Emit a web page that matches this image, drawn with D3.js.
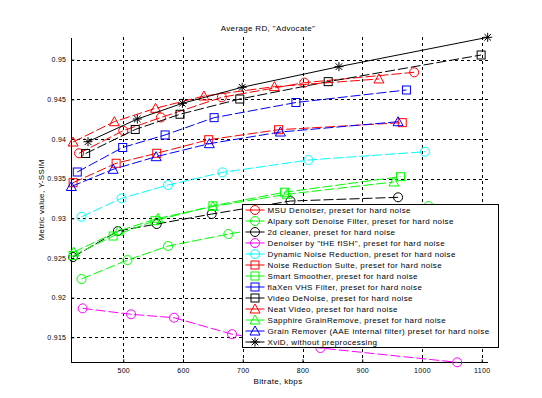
<!DOCTYPE html>
<html>
<head>
<meta charset="utf-8">
<script src="https://cdn.jsdelivr.net/npm/d3@7"></script>
<style>
  body { margin: 0; background: #fff; }
  text { font-family: "Liberation Sans", Arial, sans-serif; fill: #000; }
</style>
</head>
<body>
<svg id="chart" width="542" height="398"></svg>
<script>
'use strict'

// bitrate (kbps) / Y-SSIM per codec
var msuX      = [426, 500, 563, 665, 803, 987],
    msuY      = [0.9382, 0.94105, 0.94271, 0.94526, 0.9471, 0.94841]
var alparyX   = [430, 507, 575, 676, 827, 1011],
    alparyY   = [0.92235, 0.92474, 0.92651, 0.92802, 0.92991, 0.93155]
var cleanerX  = [416, 491, 556, 648, 780, 960],
    cleanerY  = [0.92512, 0.9284, 0.92928, 0.93054, 0.93218, 0.93265]
var fishX     = [432, 513, 585, 682, 830, 1059],
    fishY     = [0.91865, 0.9179, 0.91747, 0.91539, 0.91365, 0.91185]
var dnrX      = [430, 497, 575, 666, 810, 1005],
    dnrY      = [0.9302, 0.93252, 0.9342, 0.9358, 0.93735, 0.9384]
var nrsX      = [416, 488, 556, 643, 760, 967],
    nrsY      = [0.93449, 0.93694, 0.9382, 0.93991, 0.94117, 0.94206]
var smartX    = [416, 483, 553, 650, 770, 964],
    smartY    = [0.92531, 0.92777, 0.9297, 0.93158, 0.93329, 0.93525]
var flaxenX   = [423, 499, 570, 652, 789, 974],
    flaxenY   = [0.93584, 0.93893, 0.94051, 0.94269, 0.9446, 0.94618]
var vdnX      = [437, 520, 595, 695, 843, 1099],
    vdnY      = [0.93817, 0.9412, 0.94312, 0.94504, 0.94723, 0.95059]
var neatX     = [416, 485, 554, 635, 753, 928],
    neatY     = [0.93962, 0.94218, 0.94387, 0.94542, 0.9466, 0.94757]
var sapphireX = [417, 492, 558, 650, 774, 953],
    sapphireY = [0.92575, 0.9284, 0.93, 0.93149, 0.93304, 0.93458]
var aaeX      = [413, 483, 555, 644, 763, 960],
    aaeY      = [0.93401, 0.93618, 0.93777, 0.93941, 0.94088, 0.94218]
var xvidX     = [441, 523.5, 599, 699, 861, 1110],
    xvidY     = [0.93966, 0.94252, 0.9445, 0.94652, 0.94912, 0.95282]

var names = [
  'MSU Denoiser, preset for hard noise',
  'Alpary soft Denoise Filter, preset for hard noise',
  '2d cleaner, preset for hard noise',
  'Denoiser by "tHE fISH", preset for hard noise',
  'Dynamic Noise Reduction, preset for hard noise',
  'Noise Reduction Suite, preset for hard noise',
  'Smart Smoother, preset for hard noise',
  'flaXen VHS Filter, preset for hard noise',
  'Video DeNoise, preset for hard noise',
  'Neat Video, preset for hard noise',
  'Sapphire GrainRemove, preset for hard noise',
  'Grain Remover (AAE internal filter) preset for hard noise',
  'XviD, without preprocessing'
]
var xTicks = [500, 600, 700, 800, 900, 1000, 1100]
var yTicks = [0.915, 0.92, 0.925, 0.93, 0.935, 0.94, 0.945, 0.95]

// styles kept apart from the values
var colors  = ['#f00', '#0f0', '#000', '#f0f', '#0ff', '#f00', '#0f0', '#00f', '#000', '#f00', '#0f0', '#00f', '#000']
var markers = ['o', 'o', 'o', 'o', 'o', 's', 's', 's', 's', '^', '^', '^', '*']

var xs = [msuX, alparyX, cleanerX, fishX, dnrX, nrsX, smartX, flaxenX, vdnX, neatX, sapphireX, aaeX, xvidX]
var ys = [msuY, alparyY, cleanerY, fishY, dnrY, nrsY, smartY, flaxenY, vdnY, neatY, sapphireY, aaeY, xvidY]

var series = names.map((n, i) => ({
  name: n, color: colors[i], marker: markers[i],
  pts: xs[i].map((b, j) => [b, ys[i][j]])
}))

var svg = d3.select('#chart'),
    pL = 71.3, pR = 487.7, pT = 37.3, pB = 362.3

var x = d3.scaleLinear()
  .domain(d3.extent(d3.merge(xs)))
  .range([pL, pR])
var y = d3.scaleLinear()
  .domain(d3.extent(d3.merge(ys)))
  .range([pB, pT])

// grid
var grid = svg.append('g').attr('stroke', '#000').attr('stroke-width', 1)
  .attr('stroke-dasharray', '3,3').attr('shape-rendering', 'crispEdges')
grid.selectAll('.gx').data(xTicks).enter().append('line')
  .attr('x1', d => Math.round(x(d)) + 0.5).attr('x2', d => Math.round(x(d)) + 0.5)
  .attr('y1', pT).attr('y2', pB)
grid.selectAll('.gy').data(yTicks).enter().append('line')
  .attr('y1', d => Math.round(y(d)) + 0.5).attr('y2', d => Math.round(y(d)) + 0.5)
  .attr('x1', pL).attr('x2', pR)

// axes, MATLAB style: ticks inward, no box
var xAxis = svg.append('g')
  .attr('transform', 'translate(0,' + pB + ')')
  .call(d3.axisBottom(x).tickValues(xTicks).tickFormat(d3.format('d'))
    .tickSizeInner(-3).tickSizeOuter(0).tickPadding(6))
var yAxis = svg.append('g')
  .attr('transform', 'translate(' + pL + ',0)')
  .call(d3.axisLeft(y).tickValues(yTicks).tickFormat(d3.format('.3~f'))
    .tickSizeInner(-3).tickSizeOuter(0).tickPadding(5))
;[xAxis, yAxis].forEach(a => {
  a.select('.domain').attr('stroke', '#000').attr('shape-rendering', 'crispEdges')
  a.selectAll('line').attr('stroke', '#000')
  a.selectAll('text').attr('font-size', '7px').attr('letter-spacing', '0.3px')
    .attr('font-family', '"Liberation Sans", Arial, sans-serif').attr('fill', '#000')
})

svg.append('text').attr('x', 268).attr('y', 31).attr('text-anchor', 'middle')
  .attr('font-size', '8px').attr('letter-spacing', '0.35px')
  .text('Average RD, "Advocate"')
svg.append('text').attr('x', 278).attr('y', 384).attr('text-anchor', 'middle')
  .attr('font-size', '8px').attr('letter-spacing', '0.35px')
  .text('Bitrate, kbps')
svg.append('text').attr('transform', 'translate(44,' + (pT + pB) / 2 + ') rotate(-90)')
  .attr('text-anchor', 'middle').attr('font-size', '8px').attr('letter-spacing', '0.35px')
  .text('Metric value, Y-SSIM')

function drawMarker(sel, type, color){
  if (type == 'o'){
    sel.append('circle').attr('r', 4.5)
  } else if (type == 's'){
    sel.append('rect').attr('x', -4).attr('y', -4).attr('width', 8).attr('height', 8)
  } else if (type == '^'){
    sel.append('path').attr('d', 'M0,-5L5,4L-5,4Z')
  } else {
    sel.append('path').attr('d', 'M-4.5,0H4.5M0,-4.5V4.5M-3.3,-3.3L3.3,3.3M-3.3,3.3L3.3,-3.3')
  }
  sel.selectAll('*').attr('fill', 'none').attr('stroke', color).attr('stroke-width', 1)
}

var line = d3.line().x(d => x(d[0])).y(d => y(d[1]))

series.forEach(s => {
  var g = svg.append('g')
  g.append('path').datum(s.pts)
    .attr('d', line)
    .attr('fill', 'none')
    .attr('stroke', s.color)
    .attr('stroke-width', 1)
    .attr('stroke-dasharray', s.marker == '*' ? null : '10,3')
  s.pts.forEach(p => {
    var m = g.append('g').attr('transform', 'translate(' + x(p[0]) + ',' + y(p[1]) + ')')
    drawMarker(m, s.marker, s.color)
  })
})

// legend
var lg = svg.append('g')
var lgL = 242.5, lgT = 204.5, lgW = 256, lgH = 143, rowH = lgH / names.length
lg.append('rect').attr('x', lgL).attr('y', lgT).attr('width', lgW).attr('height', lgH)
  .attr('fill', '#fff').attr('stroke', '#000').attr('stroke-width', 1)
series.forEach((s, i) => {
  var cy = lgT + rowH * (i + 0.5)
  lg.append('line').attr('x1', lgL + 3).attr('x2', lgL + 22).attr('y1', cy).attr('y2', cy)
    .attr('stroke', s.color).attr('stroke-width', 1)
  drawMarker(lg.append('g').attr('transform', 'translate(' + (lgL + 12.5) + ',' + cy + ')'), s.marker, s.color)
  lg.append('text').attr('x', lgL + 25).attr('y', cy + 3)
    .attr('font-size', '8px').attr('letter-spacing', '0.4px')
    .text(s.name)
})
</script>
</body>
</html>
